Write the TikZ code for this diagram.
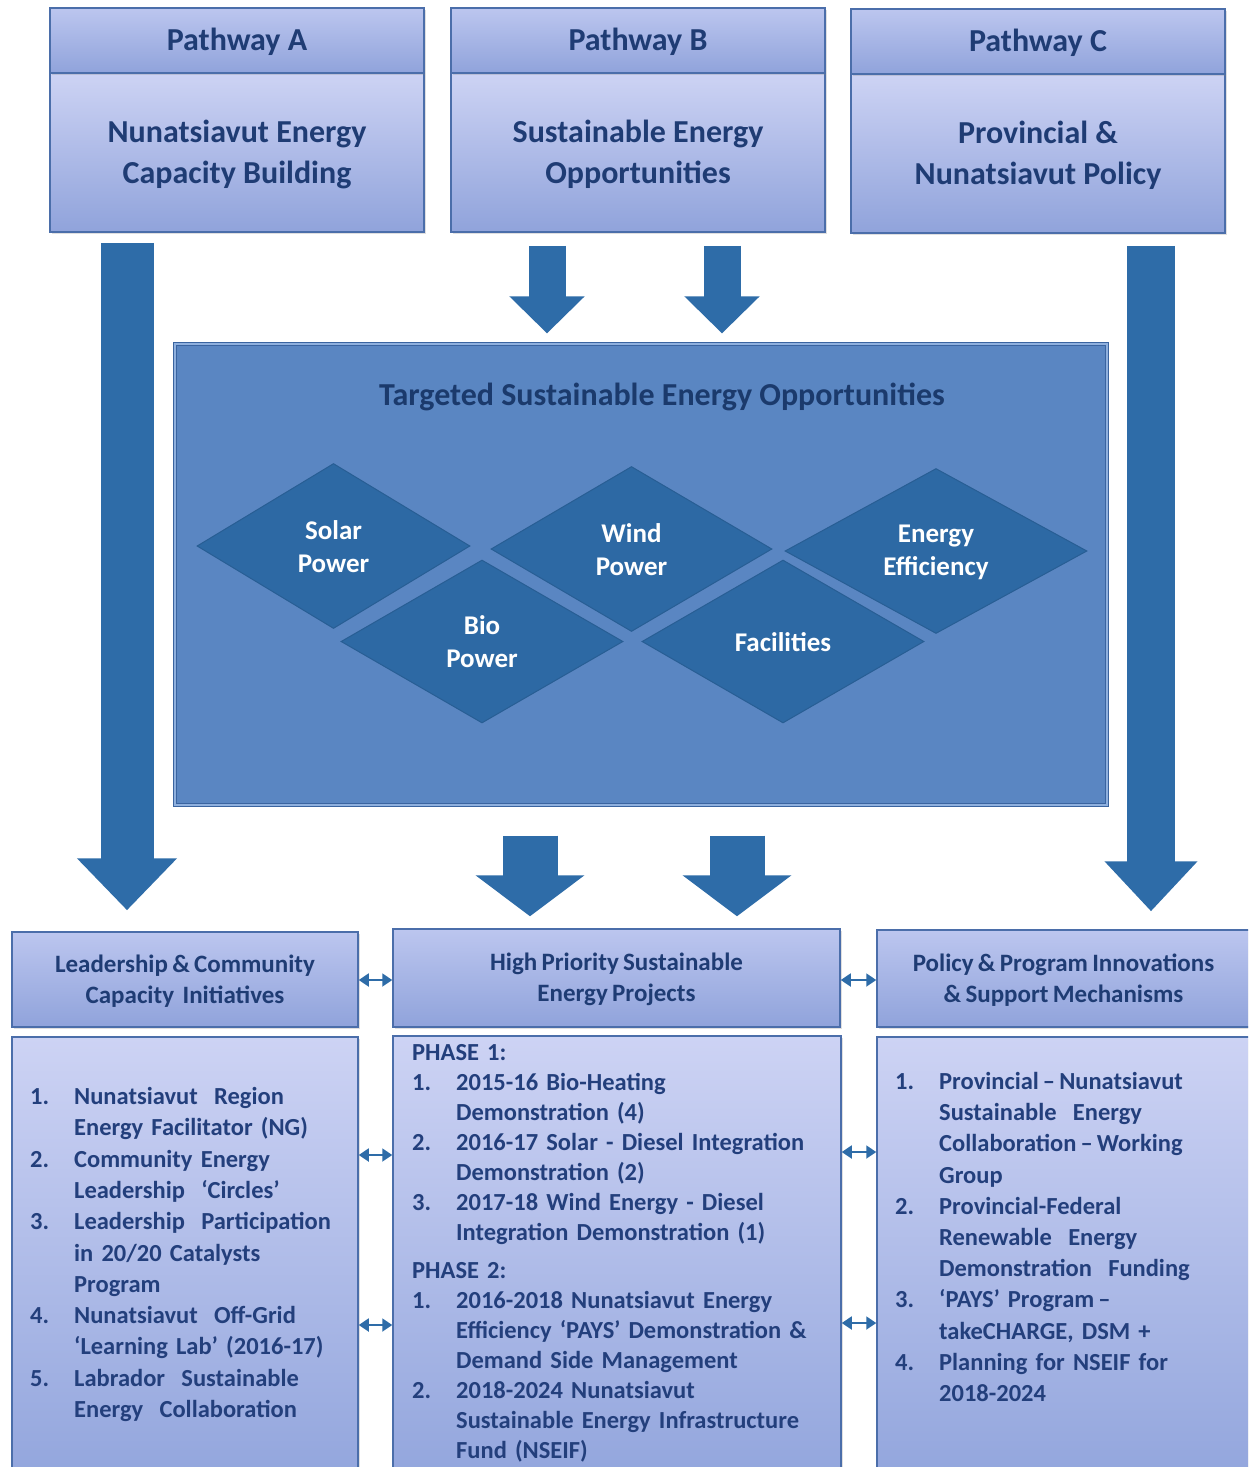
\documentclass[tikz,border=0pt]{standalone}
\usepackage{fontspec}
\setmainfont{Carlito}
\usetikzlibrary{arrows.meta,shapes.geometric,shadows}
\definecolor{arrowblue}{HTML}{2E6CA8}
\definecolor{navy}{HTML}{1F3C74}
\definecolor{listnavy}{HTML}{233F7C}
\definecolor{boxedge}{HTML}{4B6EAA}
\definecolor{midfill}{HTML}{5A86C2}
\definecolor{midedge}{HTML}{3A64A0}
\definecolor{midinner}{HTML}{8FB0DE}
\definecolor{diafill}{HTML}{2D69A4}
\definecolor{diaedge}{HTML}{285E94}
\definecolor{titlenavy}{HTML}{1B3A6C}
\definecolor{hdtop}{HTML}{BCC6EF}
\definecolor{hdbot}{HTML}{90A3DB}
\definecolor{bdtop}{HTML}{CDD3F4}
\definecolor{bdbot}{HTML}{93A6DD}
\newcommand{\itm}[2]{\par\hangindent=44pt\hangafter=1\noindent\makebox[44pt][l]{#1}#2\par}
\newcommand{\tstrut}{\rule{0pt}{22pt}}
\newcommand{\tightsp}{\spaceskip=0.2em plus 0.05em\relax}
\newcommand{\hdsp}{\spaceskip=0.17em plus 0.05em\relax}
\begin{document}
\begin{tikzpicture}[x=1pt,y=-1pt,
  boxbase/.style={draw=boxedge, line width=1.5pt, drop shadow={opacity=0.25, shadow xshift=2pt, shadow yshift=-2pt}},
  phead/.style={boxbase, top color=hdtop, bottom color=hdbot, text=navy, inner sep=0pt,
    font=\fontsize{32}{40}\selectfont\bfseries},
  pbody/.style={boxbase, top color=bdtop, bottom color=hdbot, text=navy, inner sep=0pt, align=center,
    font=\fontsize{32}{41}\selectfont\bfseries},
  bhead/.style={boxbase, top color=hdtop, bottom color=hdbot, text=navy, inner sep=0pt, align=center,
    font=\fontsize{25}{31}\selectfont\bfseries\hdsp},
  bbody/.style={boxbase, top color=bdtop, bottom color=bdbot, inner sep=0pt},
  listtext/.style={text=listnavy, inner sep=0pt, anchor=north west, align=left},
  midbox/.style={fill=midfill, draw=midedge, line width=1.2pt, double=midinner, double distance=1.2pt,
    drop shadow={opacity=0.3, shadow xshift=2pt, shadow yshift=-2pt}},
  dia/.style={diamond, aspect=1.7, inner sep=0pt, fill=diafill, draw=diaedge, line width=1pt,
    text=white, align=center, font=\fontsize{27}{33}\selectfont\bfseries},
  bigarrow/.style={draw=arrowblue, line width=#1},
  dbl/.style={draw=arrowblue, line width=1.8pt, {Triangle[width=13pt,length=10pt]}-{Triangle[width=13pt,length=10pt]}}
]
\useasboundingbox (0,0) rectangle (1248,1467);
\fill[white] (0,0) rectangle (1248,1467);
\begin{scope}
\clip (0,0) rectangle (1248,1467);

% top pathway boxes
\node[pbody, minimum width=374pt, minimum height=159pt] (pAb) at (237,152.5) {\rule{0pt}{27pt}Nunatsiavut Energy\\Capacity Building};
\node[phead, minimum width=374pt, minimum height=65pt] (pAh) at (237,40.5) {\rule{0pt}{26pt}Pathway A};
\node[pbody, minimum width=374pt, minimum height=159pt] (pBb) at (638,152.5) {\rule{0pt}{27pt}Sustainable Energy\\Opportunities};
\node[phead, minimum width=374pt, minimum height=65pt] (pBh) at (638,40.5) {\rule{0pt}{26pt}Pathway B};
\node[pbody, minimum width=374pt, minimum height=159pt] (pCb) at (1038,153.5) {\rule{0pt}{27pt}Provincial \&\\Nunatsiavut Policy};
\node[phead, minimum width=374pt, minimum height=65pt] (pCh) at (1038,41.5) {\rule{0pt}{26pt}Pathway C};

% middle box
\node[midbox, minimum width=932pt, minimum height=461pt] (mid) at (641,574.5) {};
\node[text=titlenavy, font=\fontsize{32}{38}\selectfont\bfseries] (ttl) at (662,397) {Targeted Sustainable Energy Opportunities};

% diamonds
\node[dia, minimum width=273pt, minimum height=165pt] (solar) at (333.5,546) {\rule{0pt}{20pt}Solar\\Power};
\node[dia, minimum width=281pt, minimum height=165pt] (wind) at (631.5,549) {\rule{0pt}{20pt}Wind\\Power};
\node[dia, minimum width=302pt, minimum height=165pt] (eff) at (936,551) {\rule{0pt}{20pt}Energy\\Efficiency};
\node[dia, minimum width=282pt, minimum height=163pt] (bio) at (482,641.5) {\rule{0pt}{20pt}Bio\\Power};
\node[dia, minimum width=282pt, minimum height=163pt] (fac) at (783,641.5) {\rule{0pt}{20pt}Facilities};

% bottom header boxes
\node[bhead, minimum width=346pt, minimum height=95pt] (lh) at (185,979.5) {\rule{0pt}{20pt}Leadership \& Community\\Capacity \ Initiatives};
\node[bhead, minimum width=447pt, minimum height=98pt] (mh) at (616.5,978) {\rule{0pt}{20pt}High Priority Sustainable\\Energy Projects};
\node[bhead, minimum width=373pt, minimum height=97pt] (rh) at (1063.5,978.5) {\rule{0pt}{20pt}Policy \& Program Innovations\\\& Support Mechanisms};

% bottom body boxes
\node[bbody, minimum width=346pt, minimum height=437pt] (lb) at (185,1255.5) {};
\node[bbody, minimum width=448pt, minimum height=438pt] (mb) at (617,1255) {};
\node[bbody, minimum width=373pt, minimum height=437pt] (rb) at (1063.5,1255.5) {};

% list texts
\node[listtext, text width=325pt, font=\fontsize{24.5}{31.3}\selectfont\bfseries\tightsp] (lt) at (30,1073) {\parindent=0pt
\itm{1.}{\tstrut Nunatsiavut \ Region\newline Energy Facilitator (NG)}
\itm{2.}{Community Energy\newline Leadership \ ‘Circles’}
\itm{3.}{Leadership \ Participation\newline in 20/20 Catalysts\newline Program}
\itm{4.}{Nunatsiavut \ Off-Grid\newline ‘Learning Lab’ (2016-17)}
\itm{5.}{Labrador \ Sustainable\newline Energy \ Collaboration}};

\node[listtext, text width=425pt, font=\fontsize{24.5}{30}\selectfont\bfseries\tightsp] (mt) at (412,1038) {\parindent=0pt
\noindent\tstrut PHASE 1:\par
\itm{1.}{2015-16 Bio-Heating\newline Demonstration (4)}
\itm{2.}{2016-17 Solar - Diesel Integration\newline Demonstration (2)}
\itm{3.}{2017-18 Wind Energy - Diesel\newline Integration Demonstration (1)}
\vspace{8pt}\noindent PHASE 2:\par
\itm{1.}{2016-2018 Nunatsiavut Energy\newline Efficiency ‘PAYS’ Demonstration \&\newline Demand Side Management}
\itm{2.}{2018-2024 Nunatsiavut\newline Sustainable Energy Infrastructure\newline Fund (NSEIF)}};

\node[listtext, text width=345pt, font=\fontsize{24.5}{31.2}\selectfont\bfseries\tightsp] (rt) at (895,1058) {\parindent=0pt
\itm{1.}{\tstrut Provincial\,–\,Nunatsiavut\newline Sustainable \ Energy\newline Collaboration\,–\,Working\newline Group}
\itm{2.}{Provincial-Federal\newline Renewable \ Energy\newline Demonstration \ Funding}
\itm{3.}{‘PAYS’ Program\,–\newline takeCHARGE, DSM +}
\itm{4.}{Planning for NSEIF for\newline 2018-2024}};

% big arrows
\coordinate (xA) at (127,0);
\coordinate (xC) at (1151,0);
\coordinate (xB1) at (547,0);
\coordinate (xB2) at (722,0);
\coordinate (xM1) at (530,0);
\coordinate (xM2) at (737,0);
\draw[bigarrow=53pt, -{Triangle[width=97pt,length=52pt]}, shorten <=10pt, shorten >=21pt] (pAb.south -| xA) -- (lh.north -| xA);
\draw[bigarrow=48pt, -{Triangle[width=90pt,length=50pt]}, shorten <=12pt, shorten >=18pt] (pCb.south -| xC) -- (rh.north -| xC);
\draw[bigarrow=37pt, -{Triangle[width=73pt,length=37pt]}, shorten <=13pt, shorten >=10pt] (pBb.south -| xB1) -- (mid.north -| xB1);
\draw[bigarrow=37pt, -{Triangle[width=73pt,length=37pt]}, shorten <=13pt, shorten >=10pt] (pBb.south -| xB2) -- (mid.north -| xB2);
\draw[bigarrow=55pt, -{Triangle[width=107pt,length=41pt]}, shorten <=30pt, shorten >=12pt] (mid.south -| xM1) -- (mh.north -| xM1);
\draw[bigarrow=55pt, -{Triangle[width=107pt,length=41pt]}, shorten <=30pt, shorten >=12pt] (mid.south -| xM2) -- (mh.north -| xM2);

% double arrows
\coordinate (yH) at (0,980);
\coordinate (yL1) at (0,1155);
\coordinate (yL2) at (0,1325);
\coordinate (yR1) at (0,1152);
\coordinate (yR2) at (0,1323);
\draw[dbl] (lh.east |- yH) -- (mh.west |- yH);
\draw[dbl] (mh.east |- yH) -- (rh.west |- yH);
\draw[dbl] (lb.east |- yL1) -- (mb.west |- yL1);
\draw[dbl] (lb.east |- yL2) -- (mb.west |- yL2);
\draw[dbl] (mb.east |- yR1) -- (rb.west |- yR1);
\draw[dbl] (mb.east |- yR2) -- (rb.west |- yR2);
\end{scope}
\end{tikzpicture}
\end{document}
